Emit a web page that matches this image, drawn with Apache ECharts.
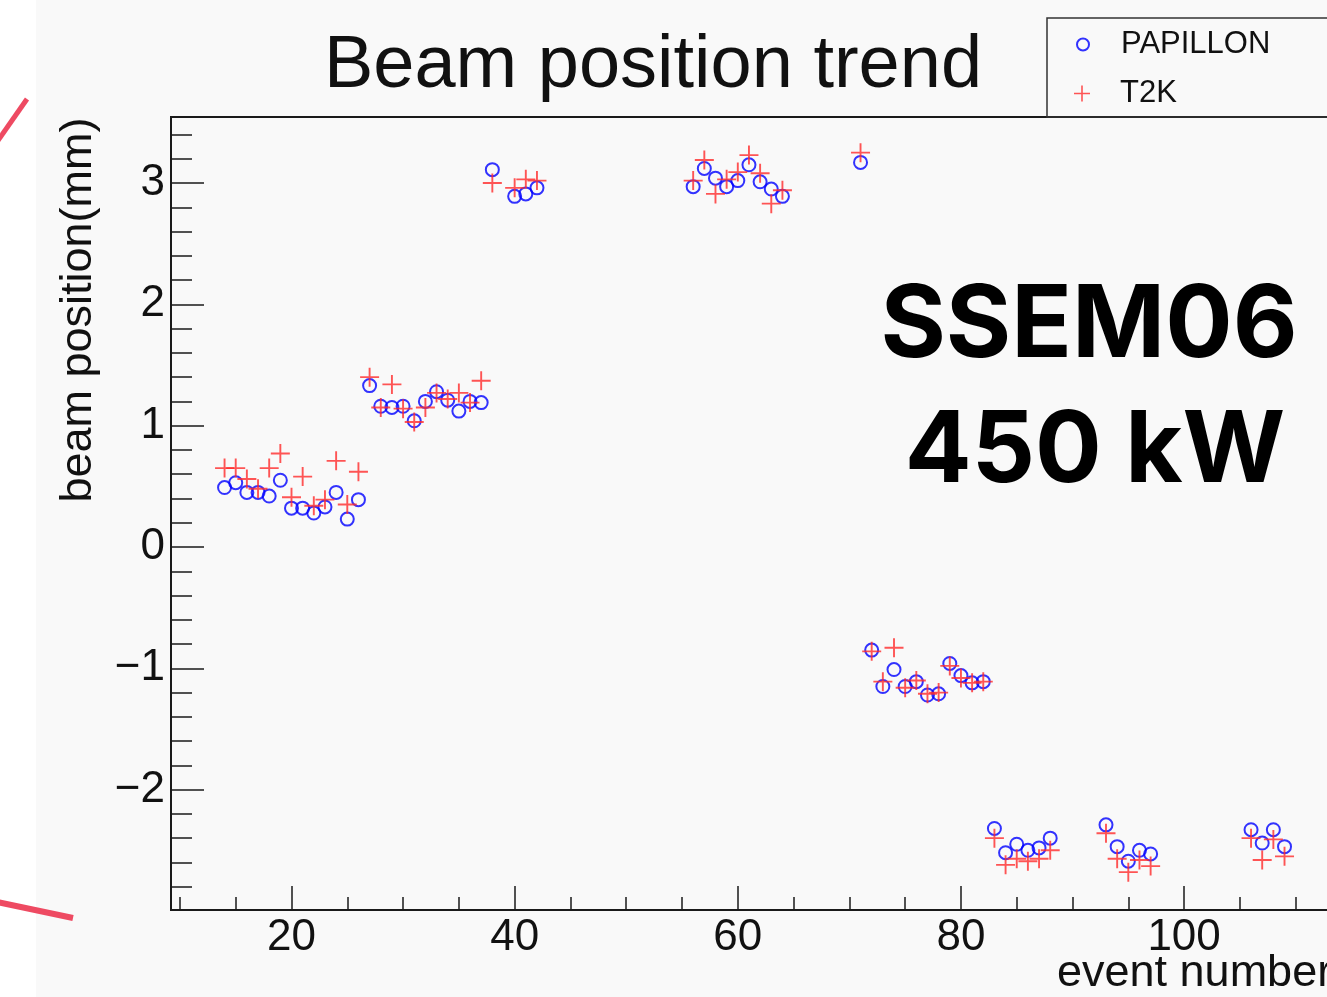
<!DOCTYPE html>
<html><head><meta charset="utf-8">
<script src="https://cdn.jsdelivr.net/npm/echarts@6/dist/echarts.min.js"></script>
<style>html,body{margin:0;padding:0;background:#fff}#c{width:1327px;height:997px}</style>
</head><body><div id="c"></div>
<script>
// ---- data ----
const events = [14,15,16,17,18,19,20,21,22,23,24,25,26,
  27,28,29,30,31,32,33,34,35,36,37,
  38,40,41,42,
  56,57,58,59,60,61,62,63,64,
  71,
  72,73,74,75,76,77,78,79,80,81,82,
  83,84,85,86,87,88,
  93,94,95,96,97,
  106,107,108,109];
const papillon = [0.49,0.53,0.45,0.45,0.42,0.55,0.32,0.32,0.28,0.33,0.45,0.23,0.39,
  1.33,1.16,1.15,1.16,1.04,1.20,1.28,1.21,1.12,1.20,1.19,
  3.11,2.89,2.91,2.96,
  2.97,3.12,3.04,2.97,3.02,3.15,3.01,2.95,2.89,
  3.17,
  -0.85,-1.15,-1.01,-1.15,-1.11,-1.22,-1.21,-0.96,-1.06,-1.12,-1.11,
  -2.32,-2.52,-2.45,-2.50,-2.48,-2.40,
  -2.29,-2.47,-2.59,-2.50,-2.53,
  -2.33,-2.44,-2.33,-2.47];
const t2k = [0.65,0.65,0.56,0.48,0.65,0.77,0.41,0.58,0.34,0.39,0.71,0.35,0.62,
  1.40,1.15,1.34,1.14,1.03,1.15,1.27,1.22,1.27,1.19,1.37,
  3.00,2.96,3.03,3.02,
  3.02,3.19,2.91,3.03,3.09,3.23,3.08,2.83,2.94,
  3.25,
  -0.86,-1.11,-0.83,-1.16,-1.10,-1.21,-1.20,-0.98,-1.08,-1.12,-1.11,
  -2.40,-2.62,-2.57,-2.59,-2.57,-2.50,
  -2.36,-2.57,-2.68,-2.58,-2.63,
  -2.40,-2.58,-2.41,-2.55];
const xMajorTicks = [20,40,60,80,100];
const xMinorTicks = [10,15,25,30,35,45,50,55,65,70,75,85,90,95,105,110];
const yMajorTicks = [-2,-1,0,1,2,3];
const yMinorTicks = [-2.8,-2.6,-2.4,-2.2,-1.8,-1.6,-1.4,-1.2,-0.8,-0.6,-0.4,-0.2,
  0.2,0.4,0.6,0.8,1.2,1.4,1.6,1.8,2.2,2.4,2.6,2.8,3.2,3.4];
const seriesNames = ['PAPILLON','T2K'];
const titleText = 'Beam position trend';
const xTitle = 'event number';
const yTitle = 'beam position(mm)';
const noteLines = ['SSEM06','450 kW'];

// ---- chart ----
const PLUS = 'path://M0,9L20,9L20,11L0,11Z M9,0L11,0L11,20L9,20Z';
const AX = '#1a1a1a';
const FONT = 'Liberation Sans';
const X_MIN = 9.2, X_MAX = 114.6, Y_MIN = -2.992, Y_MAX = 3.544;
const fmtY = v => v < 0 ? '\u2212' + Math.abs(v) : String(v);

const chart = echarts.init(document.getElementById('c'), null, {renderer:'canvas'});
chart.setOption({
  animation: false,
  backgroundColor: '#ffffff',
  title: {
    text: titleText, left: 653, top: 30, textAlign: 'center', padding: 0,
    textStyle: {fontSize: 74, fontWeight: 'normal', fontFamily: FONT, color: '#111'}
  },
  legend: [
    {data: [{name: seriesNames[0], icon: 'circle',
      itemStyle: {color: 'rgba(0,0,0,0)', borderColor: '#0000ff', borderWidth: 2}}],
     left: 1076, top: 29, padding: 0, itemWidth: 12, itemHeight: 12,
     textStyle: {fontSize: 31, fontFamily: FONT, color: '#111', padding: [0,0,0,27]}},
    {data: [{name: seriesNames[1], icon: PLUS, itemStyle: {color: '#ff2a2a'}}],
     left: 1074, top: 78, padding: 0, itemWidth: 16, itemHeight: 16,
     textStyle: {fontSize: 31, fontFamily: FONT, color: '#111', padding: [0,0,0,25]}}
  ],
  grid: {left: 171, top: 117, right: -20, bottom: 87, show: true,
    borderColor: AX, borderWidth: 2, backgroundColor: 'transparent',
    containLabel: false, outerBoundsMode: 'none'},
  xAxis: [
    {type: 'value', min: X_MIN, max: X_MAX, position: 'bottom',
     axisLine: {show: true, onZero: false, lineStyle: {color: AX, width: 2}},
     axisTick: {show: true, inside: true, length: 24, customValues: xMajorTicks, lineStyle: {color: AX, width: 1.5}},
     axisLabel: {show: true, customValues: xMajorTicks, margin: 6, fontSize: 44, fontFamily: FONT, color: '#111'},
     splitLine: {show: false}},
    {type: 'value', min: X_MIN, max: X_MAX, position: 'bottom', gridIndex: 0,
     axisLine: {show: false, onZero: false},
     axisTick: {show: true, inside: true, length: 13, customValues: xMinorTicks, lineStyle: {color: AX, width: 1.5}},
     axisLabel: {show: false}, splitLine: {show: false}}
  ],
  yAxis: [
    {type: 'value', min: Y_MIN, max: Y_MAX, position: 'left',
     axisLine: {show: true, onZero: false, lineStyle: {color: AX, width: 2}},
     axisTick: {show: true, inside: true, length: 33, customValues: yMajorTicks, lineStyle: {color: AX, width: 1.5}},
     axisLabel: {show: true, customValues: yMajorTicks, margin: 6, fontSize: 44, fontFamily: FONT, color: '#111', formatter: fmtY},
     splitLine: {show: false}},
    {type: 'value', min: Y_MIN, max: Y_MAX, position: 'left', gridIndex: 0, offset: 0,
     axisLine: {show: false, onZero: false},
     axisTick: {show: true, inside: true, length: 21, customValues: yMinorTicks, lineStyle: {color: AX, width: 1.5}},
     axisLabel: {show: false}, splitLine: {show: false}}
  ],
  series: [
    {name: seriesNames[0], type: 'scatter', xAxisIndex: 0, yAxisIndex: 0,
     symbol: 'circle', symbolSize: 13,
     itemStyle: {color: 'rgba(0,0,0,0)', borderColor: '#0000ff', borderWidth: 2},
     data: events.map((e, i) => [e, papillon[i]])},
    {name: seriesNames[1], type: 'scatter', xAxisIndex: 0, yAxisIndex: 0,
     symbol: PLUS, symbolSize: 19,
     itemStyle: {color: '#ff2a2a'},
     data: events.map((e, i) => [e, t2k[i]])}
  ],
  graphic: [
    {type: 'rect', z: -10, silent: true, shape: {x: 36, y: 0, width: 1400, height: 1000}, style: {fill: '#f9f9f9'}},
    {type: 'rect', z: 5, silent: true, shape: {x: 1047, y: 18, width: 400, height: 99}, style: {fill: 'none', stroke: '#333', lineWidth: 1.5}},
    {type: 'line', z: 5, silent: true, shape: {x1: 27, y1: 99, x2: -3, y2: 142}, style: {stroke: '#ee4a62', lineWidth: 5}},
    {type: 'line', z: 5, silent: true, shape: {x1: -3, y1: 902, x2: 73, y2: 918}, style: {stroke: '#ee4a62', lineWidth: 6}},
    {type: 'text', z: 5, silent: true, x: 79, y: 310, rotation: Math.PI / 2,
     style: {text: yTitle, fontSize: 45, fontFamily: FONT, fill: '#111', align: 'center', verticalAlign: 'middle'}},
    {type: 'text', z: 5, silent: true, x: 1057, y: 974,
     style: {text: xTitle, fontSize: 45, fontFamily: FONT, fill: '#111', align: 'left', verticalAlign: 'middle'}},
    {type: 'text', z: 6, silent: true, x: 1089, y: 327,
     style: {text: noteLines[0], fontSize: 100, fontWeight: 'bold', fontFamily: 'Inter', fill: '#000', align: 'center', verticalAlign: 'middle'}},
    {type: 'text', z: 6, silent: true, x: 1095, y: 452,
     style: {text: noteLines[1], fontSize: 99, fontWeight: 'bold', fontFamily: 'Inter', fill: '#000', align: 'center', verticalAlign: 'middle'}}
  ]
});
</script>
</body></html>
